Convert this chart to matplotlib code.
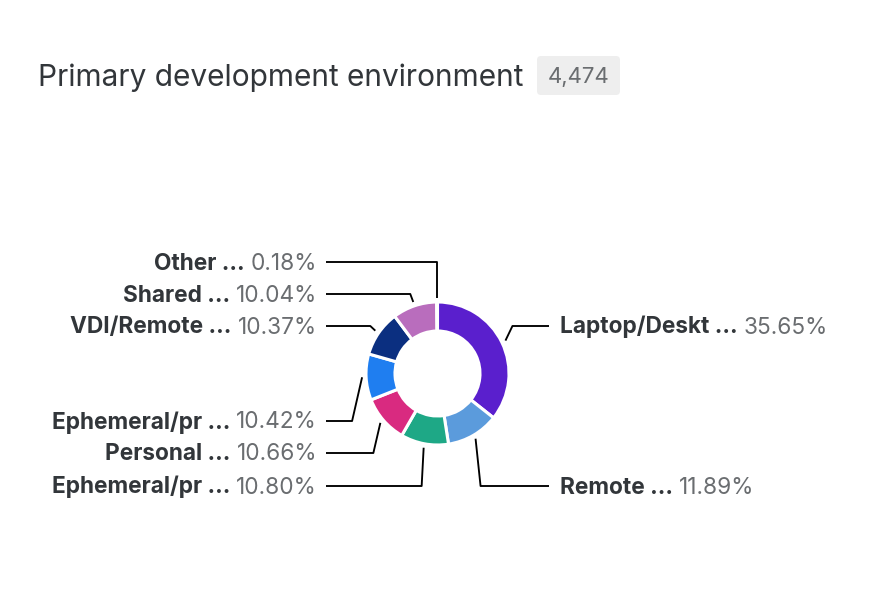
import numpy as np
import matplotlib
matplotlib.use("Agg")
import matplotlib.pyplot as plt
from matplotlib.patches import FancyBboxPatch

# data
labels = ["Laptop/Deskt ...", "Remote ...", "Ephemeral/pr ...", "Personal ...",
          "Ephemeral/pr ...", "VDI/Remote ...", "Shared ...", "Other ..."]
shares = [35.65, 11.89, 10.80, 10.66, 10.42, 10.37, 10.04, 0.18]
colors = ["#5a1fcd", "#5b9bdc", "#1ea886", "#d92a80", "#1f7ef0", "#0b2f80", "#b96dbd", "#e8a33d"]
total = "4,474"

# layout (pixel coords, y from top)
label_y = [326, 486, 486, 453, 421, 326, 294, 262]
side = [1, 1, -1, -1, -1, -1, -1, -1]
elbow_dx = [7, 5, -2, -7, -10, -5, -3, 0]

FONT = "Inter"
FS = 16.3
W, H = 870, 600
fig = plt.figure(figsize=(W / 100, H / 100), dpi=100)
ax = fig.add_axes([0, 0, 1, 1])

cx, cy, r = 437.5, H - 373.5, 71.5
wedges, _ = ax.pie(shares, colors=colors, startangle=90, counterclock=False,
                   center=(cx, cy), radius=r, frame=True,
                   wedgeprops=dict(width=29, edgecolor="white", linewidth=2.2))
ax.set_xlim(0, W)
ax.set_ylim(0, H)
ax.set_aspect("equal")
ax.axis("off")

fig.canvas.draw()
rend = fig.canvas.get_renderer()

# leader lines + labels
for w, lab, pct, ly, s, edx in zip(wedges, labels, shares, label_y, side, elbow_dx):
    ang = np.deg2rad((w.theta1 + w.theta2) / 2)
    ex, ey = cx + (r + 4) * np.cos(ang), cy + (r + 4) * np.sin(ang)
    yy = H - ly
    bx = ex + edx
    hx = 549 if s > 0 else 326
    ax.plot([ex, bx, hx], [ey, yy, yy], color="black", lw=1.35, solid_capstyle="butt")
    base = yy - 7.5
    pct_txt = f"{pct:.2f}%"
    if s > 0:
        t1 = ax.text(560, base, lab, ha="left", va="baseline", fontsize=FS,
                     fontweight="bold", color="#32363a", family=FONT)
        bb = t1.get_window_extent(rend)
        ax.text(bb.x1 + 6, base, pct_txt, ha="left", va="baseline", fontsize=FS,
                color="#6a6d70", family=FONT)
    else:
        t2 = ax.text(317, base, pct_txt, ha="right", va="baseline", fontsize=FS,
                     color="#6a6d70", family=FONT)
        bb = t2.get_window_extent(rend)
        ax.text(bb.x0 - 6, base, lab, ha="right", va="baseline", fontsize=FS,
                fontweight="bold", color="#32363a", family=FONT)

# title and count badge
ax.text(38, H - 86, "Primary development environment", ha="left", va="baseline",
        fontsize=21.5, color="#32363a", family=FONT)
badge = FancyBboxPatch((537, H - 95), 83, 39, boxstyle="round,pad=0,rounding_size=4",
                       facecolor="#eeeeee", edgecolor="none")
ax.add_patch(badge)
ax.text(578.5, H - 83, total, ha="center", va="baseline", fontsize=16,
        color="#6a6d70", family=FONT)

fig.savefig("out.png", dpi=100)
